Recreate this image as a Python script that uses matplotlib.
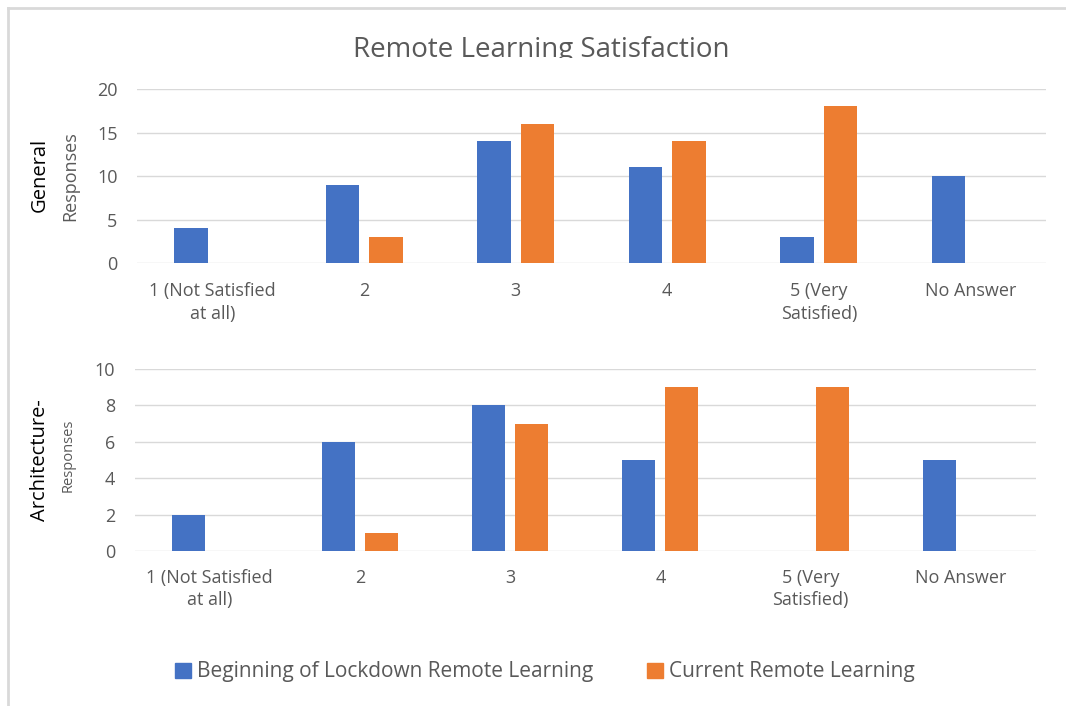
import matplotlib
matplotlib.use("Agg")
import matplotlib.pyplot as plt
from matplotlib.lines import Line2D
from matplotlib.transforms import Bbox, TransformedBbox
import numpy as np

categories = ["1 (Not Satisfied\nat all)", "2", "3", "4", "5 (Very\nSatisfied)", "No Answer"]
general_begin = [4, 9, 14, 11, 3, 10]
general_current = [0, 3, 16, 14, 18, 0]
arch_begin = [2, 6, 8, 5, 0, 5]
arch_current = [0, 1, 7, 9, 9, 0]
series_names = ["Beginning of Lockdown Remote Learning", "Current Remote Learning"]

BLUE = "#4472c4"
ORANGE = "#ed7d31"
GRID = "#d9d9d9"
TXT = "#595959"

plt.rcParams['font.family'] = ['Open Sans', 'DejaVu Sans']

W, H = 1066, 706
fig = plt.figure(figsize=(W / 100, H / 100), dpi=100)

# chart frame (top and left edges visible)
fig.add_artist(Line2D([8 / W, 1], [1 - 8 / H, 1 - 8 / H], color=GRID, lw=2))
fig.add_artist(Line2D([8 / W, 8 / W], [0, 1 - 8 / H], color=GRID, lw=2))

# title, clipped at the bottom like the original
title = fig.text(541 / W, 1 - 50 / H, "Remote Learning Satisfaction", ha="center", va="center",
                 fontsize=20, color=TXT, family=['Liberation Sans Narrow', 'Open Sans', 'DejaVu Sans'])
title.set_clip_box(TransformedBbox(Bbox([[0, 1 - 58 / H], [1, 1]]), fig.transFigure))
title.set_clip_on(True)


def draw_panel(ax, begin, current, ymax, step, pad):
    x = np.arange(len(categories))
    w = 0.22
    off = 0.143
    ax.bar(x - off, begin, w, color=BLUE, zorder=3)
    ax.bar(x + off, current, w, color=ORANGE, zorder=3)
    ax.set_xlim(-0.5, len(categories) - 0.5)
    ax.set_ylim(0, ymax)
    ax.set_yticks(np.arange(0, ymax + 1, step))
    ax.set_xticks(x)
    ax.set_xticklabels(categories, linespacing=1.3)
    ax.grid(axis="y", color=GRID, lw=1, zorder=0)
    for s in ax.spines.values():
        s.set_visible(False)
    ax.tick_params(axis="both", length=0, labelsize=13, labelcolor=TXT)
    ax.tick_params(axis="x", pad=pad)
    ax.tick_params(axis="y", pad=14)


ax1 = fig.add_axes([137 / W, 1 - 263 / H, 909 / W, 174 / H])
draw_panel(ax1, general_begin, general_current, 20, 5, 14)

ax2 = fig.add_axes([134.5 / W, 1 - 551 / H, 901.5 / W, 182 / H])
draw_panel(ax2, arch_begin, arch_current, 10, 2, 13)

# y labels: black main label plus grey "Responses"
fig.text(40 / W, 1 - 175 / H, "General", rotation=90, ha="center", va="center", fontsize=14.5, color="black")
fig.text(70 / W, 1 - 176 / H, "Responses", rotation=90, ha="center", va="center", fontsize=13, color=TXT)
fig.text(40 / W, 1 - 460 / H, "Architecture-", rotation=90, ha="center", va="center", fontsize=14.5, color="black")
fig.text(68 / W, 1 - 455 / H, "Responses", rotation=90, ha="center", va="center", fontsize=10.5, color=TXT)

# legend
handles = [plt.Rectangle((0, 0), 1, 1, color=BLUE), plt.Rectangle((0, 0), 1, 1, color=ORANGE)]
fig.legend(handles, series_names, loc="center", bbox_to_anchor=(545 / W, 1 - 672 / H), ncol=2,
           frameon=False, fontsize=15, labelcolor=TXT, handlelength=0.75, handleheight=0.75,
           handletextpad=0.3, columnspacing=2.6)

fig.savefig("out.png", dpi=100)
